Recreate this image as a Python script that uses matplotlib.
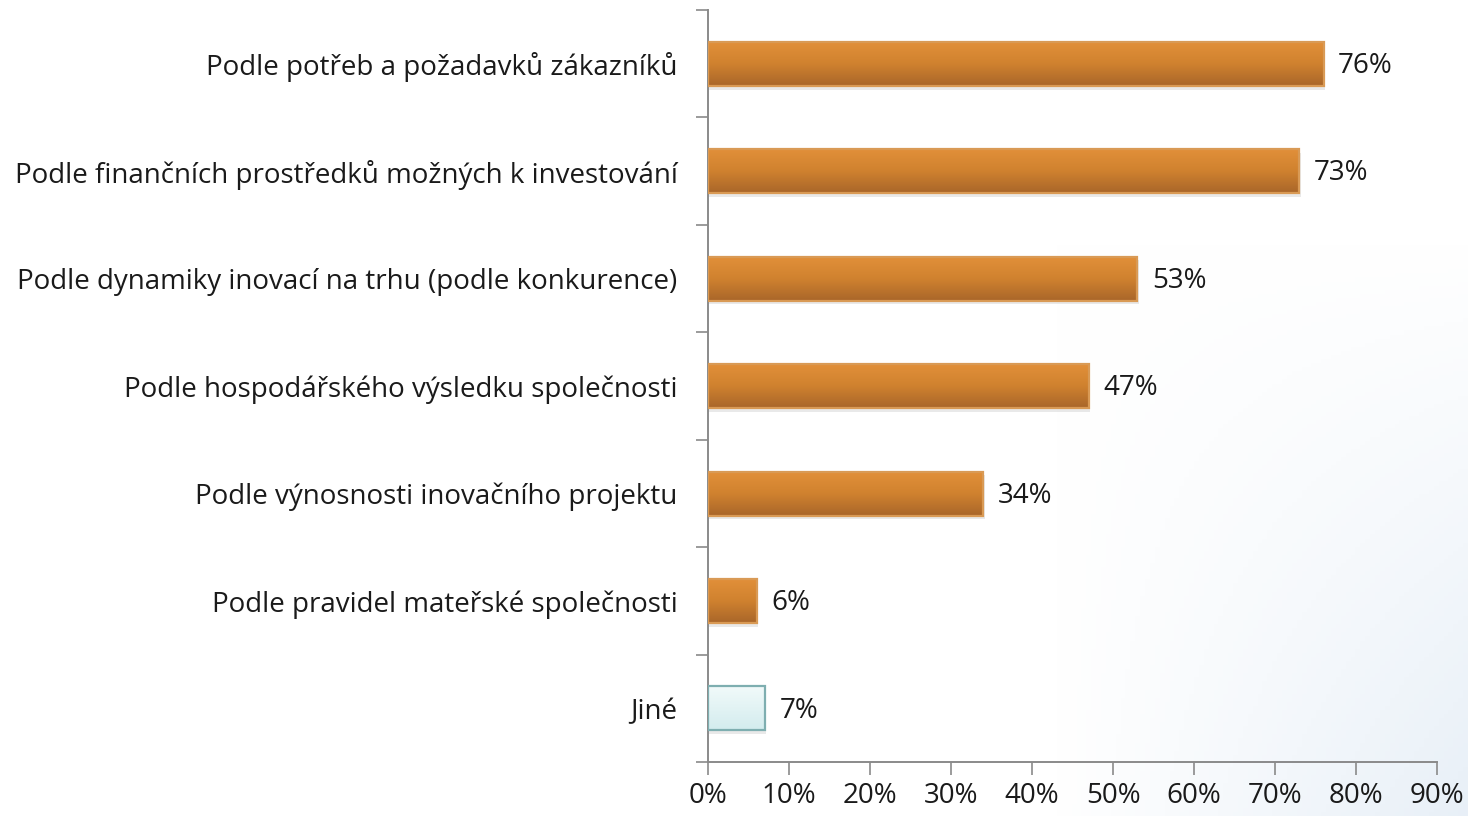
import numpy as np
import matplotlib.pyplot as plt
from matplotlib.colors import LinearSegmentedColormap

plt.rcParams['font.family'] = ['Open Sans', 'DejaVu Sans']

# data
categories = [
    'Podle potřeb a požadavků zákazníků',
    'Podle finančních prostředků možných k investování',
    'Podle dynamiky inovací na trhu (podle konkurence)',
    'Podle hospodářského výsledku společnosti',
    'Podle výnosnosti inovačního projektu',
    'Podle pravidel mateřské společnosti',
    'Jiné',
]
values = [76, 73, 53, 47, 34, 6, 7]
xticks = [0, 10, 20, 30, 40, 50, 60, 70, 80, 90]

orange = LinearSegmentedColormap.from_list('orange', ['#E2903A', '#D0822F', '#A9662A'])
cyan = LinearSegmentedColormap.from_list('cyan', ['#F2FAFA', '#D3ECEE'])

fig = plt.figure(figsize=(14.68, 8.16), dpi=100)

# faint background tint lower right
bg = fig.add_axes([0, 0, 1, 1], zorder=-5)
gx, gy = np.meshgrid(np.linspace(0, 1, 300), np.linspace(0, 1, 200))
tint = np.clip((gx - 0.72) / 0.28, 0, 1) * np.clip((0.7 - gy) / 0.7, 0, 1)
img = np.ones((200, 300, 3))
img[..., 0] -= 0.09 * tint
img[..., 1] -= 0.06 * tint
img[..., 2] -= 0.03 * tint
bg.imshow(img, extent=[0, 1, 0, 1], aspect='auto', origin='lower')
bg.axis('off')

ax = fig.add_axes([0.4823, 0.066, 0.4966, 0.9217])
ax.patch.set_alpha(0)

n = len(categories)
ypos = np.arange(n)
h = 0.41
for i, (y, v) in enumerate(zip(ypos, values)):
    cmap = cyan if categories[i] == 'Jiné' else orange
    edge = '#7EAEB0' if categories[i] == 'Jiné' else '#D99A55'
    # shadow
    ax.barh(y + 0.035, v + 0.2, height=h, left=0, color='#888888', alpha=0.18, zorder=1)
    grad = np.linspace(0, 1, 100).reshape(-1, 1)
    ax.imshow(grad, cmap=cmap, extent=[0, v, y + h / 2, y - h / 2], aspect='auto',
              origin='upper', zorder=2)
    ax.barh(y, v, height=h, left=0, facecolor='none', edgecolor=edge, linewidth=1.6, zorder=3)
    ax.text(v + 1.8, y + 0.02, f'{v}%', va='center', ha='left', fontsize=20, color='#1a1a1a')

ax.set_ylim(n - 0.5, -0.5)
ax.set_xlim(0, 90)
ax.set_yticks(ypos)
ax.set_yticklabels(categories, fontsize=20, color='#1a1a1a')
ax.set_yticks(np.arange(-0.5, n, 1), minor=True)
ax.tick_params(axis='y', which='major', length=0, pad=22)
ax.tick_params(axis='y', which='minor', length=9, color='#8a8a8a', width=1.2, direction='out')
ax.set_xticks(xticks)
ax.set_xticklabels([f'{t}%' for t in xticks], fontsize=20, color='#1a1a1a')
ax.tick_params(axis='x', length=9, color='#8a8a8a', width=1.2, direction='out', pad=5)
for s in ['top', 'right']:
    ax.spines[s].set_visible(False)
for s in ['left', 'bottom']:
    ax.spines[s].set_color('#8a8a8a')
    ax.spines[s].set_linewidth(1.4)

fig.savefig('out.png', dpi=100)
